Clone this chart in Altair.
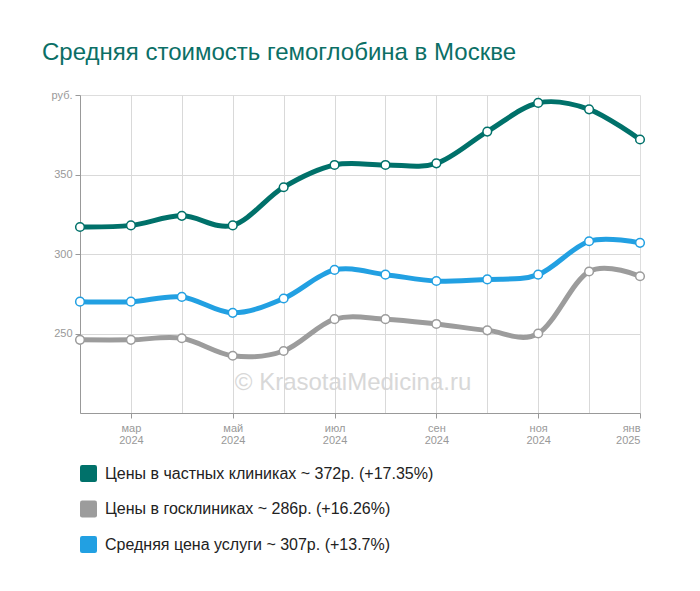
import altair as alt
import pandas as pd

# ---- data ----
month_labels = ["фев", "мар", "апр", "май", "июн", "июл", "авг", "сен", "окт", "ноя", "дек", "янв"]
year_labels = ["2024", "2024", "2024", "2024", "2024", "2024", "2024", "2024", "2024", "2024", "2024", "2025"]
private_prices = [317, 318, 324, 318, 342, 356, 356, 357, 377, 395, 391, 372]
gov_prices = [246, 246, 247, 236, 239, 259, 259, 256, 252, 250, 289, 286]
avg_prices = [270, 270, 273, 263, 272, 290, 287, 283, 284, 287, 308, 307]
series_names = [
    "Цены в частных клиниках ~ 372р. (+17.35%)",
    "Цены в госклиниках ~ 286р. (+16.26%)",
    "Средняя цена услуги ~ 307р. (+13.7%)",
]
series_colors = ["#00716a", "#9c9c9c", "#22a0e2"]

rows = []
for name, vals in zip(series_names, [private_prices, gov_prices, avg_prices]):
    for i, v in enumerate(vals):
        rows.append({"idx": i, "price": v, "series": name})
df = pd.DataFrame(rows)

FONT = "Liberation Sans"

label_expr = (
    "datum.value % 2 == 1 ? ["
    + "[" + ",".join(f"'{m}'" for m in month_labels) + "][datum.value], "
    + "[" + ",".join(f"'{y}'" for y in year_labels) + "][datum.value]] : ''"
)

x_enc = alt.X(
    "idx:Q",
    scale=alt.Scale(domain=[0, 11], nice=False, zero=False),
    axis=alt.Axis(
        values=list(range(12)),
        labelExpr=label_expr,
        title=None,
        grid=True,
        gridColor="#d9d9d9",
        gridOpacity={"condition": {"test": "datum.value == 0 || datum.value == 11", "value": 0}, "value": 1},
        tickOpacity={"condition": {"test": "datum.value % 2 == 0", "value": 0}, "value": 1},
        tickColor="#999999",
        tickSize=5,
        domainColor="#999999",
        labelColor="#999999",
        labelFont=FONT,
        labelFontSize=11,
        labelLineHeight=12,
        labelPadding=4,
        labelBaseline="top",
    ),
)
y_enc = alt.Y(
    "price:Q",
    scale=alt.Scale(domain=[200, 400], nice=False, zero=False),
    axis=alt.Axis(
        values=[250, 300, 350, 400],
        labelExpr="datum.value == 400 ? 'руб.' : datum.label",
        title=None,
        grid=True,
        gridColor="#d9d9d9",
        gridOpacity={"condition": {"test": "datum.value == 400", "value": 0}, "value": 1},
        tickColor="#999999",
        tickSize=5,
        domainColor="#999999",
        labelColor="#999999",
        labelFont=FONT,
        labelFontSize=11,
        labelPadding=3,
    ),
)

legend = alt.Legend(
    title=None,
    orient="none",
    legendX=0,
    legendY=370,
    direction="vertical",
    symbolType="M -0.75 -1 L 0.75 -1 Q 1 -1 1 -0.75 L 1 0.75 Q 1 1 0.75 1 L -0.75 1 Q -1 1 -1 0.75 L -1 -0.75 Q -1 -1 -0.75 -1 Z",
    symbolSize=289,
    symbolStrokeWidth=0,
    symbolOpacity=1,
    labelFont=FONT,
    labelFontSize=16,
    labelColor="#222222",
    labelOffset=8,
    labelLimit=500,
    rowPadding=18.5,
)
scale = alt.Scale(domain=series_names, range=series_colors)

base = alt.Chart(df)

watermark = alt.Chart(pd.DataFrame({"t": ["© KrasotaiMedicina.ru"]})).mark_text(
    font=FONT, fontSize=24, color="#d2d2d2", opacity=0.85
).encode(x=alt.value(273), y=alt.value(288), text="t:N")

lines = base.mark_line(interpolate="cardinal", strokeWidth=5).encode(
    x=x_enc, y=y_enc,
    stroke=alt.Stroke("series:N", scale=scale),
)

legend_pts = base.mark_square(filled=True, size=10, opacity=1).encode(
    x=x_enc, y=y_enc,
    fill=alt.Fill("series:N", scale=scale, legend=legend),
)

points = base.mark_point(filled=True, size=75, strokeWidth=1.5, opacity=1).encode(
    x=x_enc, y=y_enc,
    fill=alt.value("white"),
    stroke=alt.Stroke("series:N", scale=scale),
)

chart = alt.layer(watermark, lines, legend_pts, points).properties(
    width=560,
    height=318,
    autosize=alt.AutoSizeParams(type="none"),
    padding={"left": 72, "top": 87, "right": 52, "bottom": 170},
    title=alt.TitleParams(
        "Средняя стоимость гемоглобина в Москве",
        anchor="start",
        dx=-9,
        offset=24,
        font=FONT,
        fontSize=24,
        fontWeight="normal",
        color="#0b6f66",
    ),
).configure_view(stroke=None).configure(background="white")

chart.save("out.html", embed_options={"renderer": "svg", "actions": False})
